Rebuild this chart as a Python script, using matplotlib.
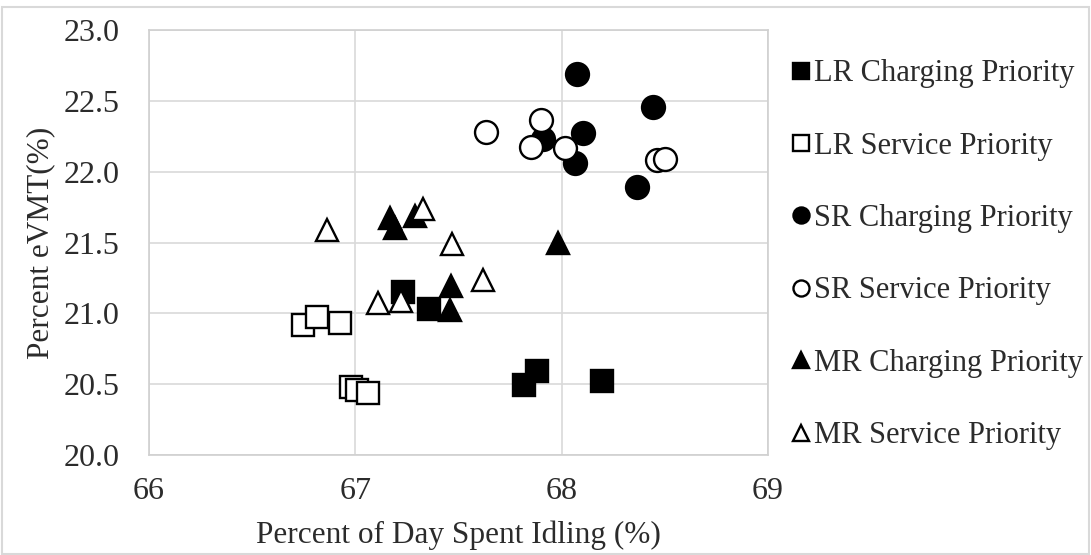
import matplotlib
matplotlib.use("Agg")
import matplotlib.pyplot as plt
from matplotlib.patches import Rectangle

# Percent of day spent idling (x) vs percent eVMT (y) for each scenario group
lr_charging_x = [67.23, 67.355, 67.818, 67.882, 68.196]
lr_charging_y = [21.154, 21.034, 20.494, 20.593, 20.522]

lr_service_x = [66.748, 66.816, 66.926, 66.979, 67.010, 67.063]
lr_service_y = [20.918, 20.976, 20.930, 20.482, 20.459, 20.436]

sr_charging_x = [68.073, 68.441, 67.908, 68.105, 68.065, 68.364]
sr_charging_y = [22.689, 22.459, 22.228, 22.270, 22.059, 21.894]

sr_service_x = [67.634, 67.900, 67.850, 68.016, 68.461, 68.501]
sr_service_y = [22.282, 22.365, 22.172, 22.165, 22.082, 22.087]

mr_charging_x = [67.168, 67.19, 67.29, 67.462, 67.459, 67.984]
mr_charging_y = [21.67, 21.60, 21.69, 21.19, 21.024, 21.494]

mr_service_x = [66.864, 67.327, 67.467, 67.617, 67.108, 67.22]
mr_service_y = [21.59, 21.74, 21.49, 21.235, 21.075, 21.09]

series_labels = ["LR Charging Priority", "LR Service Priority",
                 "SR Charging Priority", "SR Service Priority",
                 "MR Charging Priority", "MR Service Priority"]

x_ticks = [66, 67, 68, 69]
y_ticks = [20.0, 20.5, 21.0, 21.5, 22.0, 22.5, 23.0]

plt.rcParams["font.family"] = ["Liberation Serif", "DejaVu Serif"]
TEXT = "#2b2b2b"

W, H = 1091, 555
fig = plt.figure(figsize=(W / 100, H / 100), dpi=100)
ax = fig.add_axes([149 / W, 1 - 455 / H, (768 - 149) / W, (455 - 30) / H])

series = [
    (lr_charging_x, lr_charging_y, "s", True),
    (lr_service_x, lr_service_y, "s", False),
    (sr_charging_x, sr_charging_y, "o", True),
    (sr_service_x, sr_service_y, "o", False),
    (mr_charging_x, mr_charging_y, "^", True),
    (mr_service_x, mr_service_y, "^", False),
]

handles = []
for (xs, ys, m, filled), lab in zip(series, series_labels):
    h, = ax.plot(xs, ys, linestyle="none", marker=m, markersize=16.5,
                 markerfacecolor="black" if filled else "white",
                 markeredgecolor="black", markeredgewidth=1.7,
                 label=lab, zorder=3)
    handles.append(h)

ax.set_xlim(66, 69)
ax.set_ylim(20, 23)
ax.set_xticks(x_ticks)
ax.set_yticks(y_ticks)
ax.set_xticklabels([str(t) for t in x_ticks])
ax.set_yticklabels([f"{t:.1f}" for t in y_ticks])
ax.tick_params(length=0, labelsize=23, colors=TEXT)
ax.tick_params(axis="y", pad=21)
ax.tick_params(axis="x", pad=16)
ax.grid(True, color="#d9d9d9", linewidth=1.2, zorder=0)
ax.set_axisbelow(True)
for s in ax.spines.values():
    s.set_color("#d0d0d0")
    s.set_linewidth(1.2)

ax.set_xlabel("Percent of Day Spent Idling (%)", fontsize=22.5, color=TEXT, labelpad=10)
ax.set_ylabel("Percent eVMT(%)", fontsize=22.5, color=TEXT, labelpad=6)

leg = fig.legend(handles=handles, labels=series_labels,
                 loc="upper left", bbox_to_anchor=(777 / W, 1 - 44 / H),
                 frameon=False, fontsize=22, markerscale=0.7,
                 handlelength=0.55, handletextpad=0.15, labelspacing=1.42,
                 borderpad=0)
for t in leg.get_texts():
    t.set_color(TEXT)

# thin outer frame around the whole figure
fig.patches.append(Rectangle((0.002, 0.002), 0.996, 0.986, transform=fig.transFigure,
                             fill=False, edgecolor="#d9d9d9", linewidth=1.5))

fig.savefig("out.png", dpi=100)
